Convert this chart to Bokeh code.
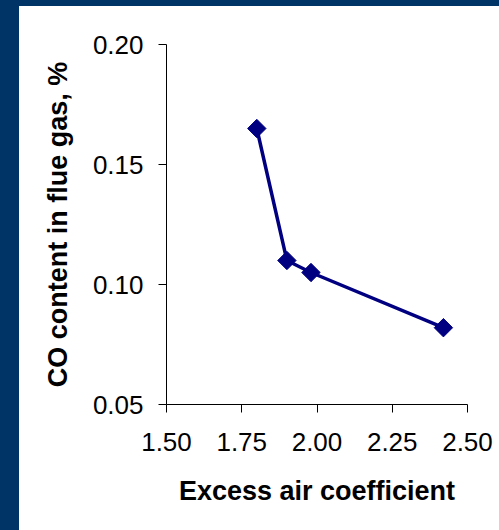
import numpy as np
from bokeh.plotting import figure
from bokeh.models import Range1d, FixedTicker, NumeralTickFormatter, Spacer
from bokeh.layouts import row, column
from bokeh.embed import file_html
from bokeh.resources import INLINE

# data
excess_air = [1.80, 1.90, 1.98, 2.42]
co_content = [0.165, 0.110, 0.105, 0.082]
x_ticks = [1.50, 1.75, 2.00, 2.25, 2.50]
y_ticks = [0.05, 0.10, 0.15, 0.20]
x_title = "Excess air coefficient"
y_title = "CO content in flue gas, %"

navy = "#000080"
frame_col = "#003366"
font = "Liberation Sans"

p = figure(width=480, height=524, output_backend="svg", toolbar_location=None,
           x_range=Range1d(1.5, 2.5), y_range=Range1d(0.05, 0.20),
           min_border_left=147, min_border_right=32, min_border_top=38,
           min_border_bottom=126)
p.background_fill_color = "white"
p.border_fill_color = "white"
p.outline_line_color = None
p.grid.visible = False

p.line(excess_air, co_content, line_color=navy, line_width=3.5)
p.scatter(excess_air, co_content, marker="square", angle=np.pi / 4, size=13,
          fill_color=navy, line_color=navy)

for ax in (p.xaxis[0], p.yaxis[0]):
    ax.axis_line_color = "black"
    ax.axis_line_width = 1
    ax.major_tick_line_color = "black"
    ax.major_tick_in = 0
    ax.major_tick_out = 8
    ax.minor_tick_line_color = None
    ax.major_label_text_font = font
    ax.major_label_text_font_size = "26px"
    ax.major_label_text_color = "black"
    ax.axis_label_text_font = font
    ax.axis_label_text_font_size = "27px"
    ax.axis_label_text_font_style = "bold"
    ax.axis_label_text_color = "black"

p.xaxis[0].ticker = FixedTicker(ticks=x_ticks)
p.yaxis[0].ticker = FixedTicker(ticks=y_ticks)
p.xaxis[0].formatter = NumeralTickFormatter(format="0.00")
p.yaxis[0].formatter = NumeralTickFormatter(format="0.00")
p.xaxis[0].axis_label = x_title
p.yaxis[0].axis_label = y_title
p.xaxis[0].major_label_standoff = 20
p.xaxis[0].axis_label_standoff = 22
p.yaxis[0].major_label_standoff = 15
p.yaxis[0].axis_label_standoff = 17

left = Spacer(width=19, height=530, styles={"background-color": frame_col})
top = Spacer(width=480, height=6, styles={"background-color": frame_col})
layout = row(left, column(top, p, spacing=0), spacing=0)

open("out.html", "w").write(file_html(layout, INLINE))
